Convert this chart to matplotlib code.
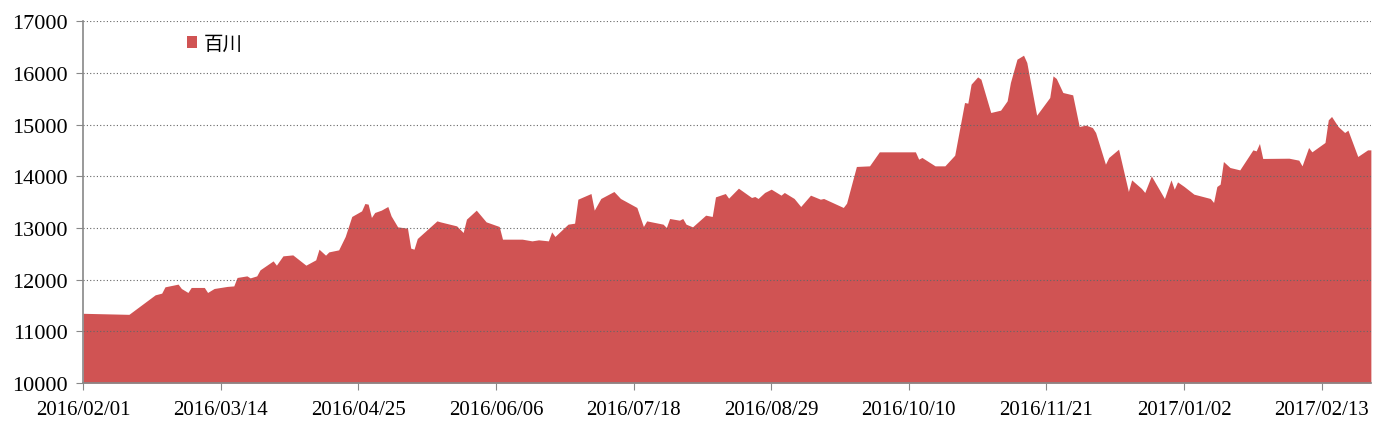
import matplotlib
matplotlib.use("Agg")
import matplotlib.pyplot as plt
import matplotlib.dates as mdates
from matplotlib.patches import Patch
import pandas as pd

# price series
dates = [
    "2016-02-01", "2016-02-15", "2016-02-23", "2016-02-25", "2016-02-26", "2016-03-01",
    "2016-03-02", "2016-03-04", "2016-03-05", "2016-03-09", "2016-03-10", "2016-03-12",
    "2016-03-16", "2016-03-18", "2016-03-19", "2016-03-22", "2016-03-23", "2016-03-25",
    "2016-03-26", "2016-03-30", "2016-03-31", "2016-04-02", "2016-04-05", "2016-04-09",
    "2016-04-12", "2016-04-13", "2016-04-15", "2016-04-16", "2016-04-19", "2016-04-21",
    "2016-04-23", "2016-04-26", "2016-04-27", "2016-04-28", "2016-04-29", "2016-04-30",
    "2016-05-02", "2016-05-04", "2016-05-05", "2016-05-07", "2016-05-10", "2016-05-11",
    "2016-05-12", "2016-05-13", "2016-05-19", "2016-05-20", "2016-05-25", "2016-05-27",
    "2016-05-28", "2016-05-31", "2016-06-03", "2016-06-07", "2016-06-08", "2016-06-14",
    "2016-06-17", "2016-06-19", "2016-06-22", "2016-06-23", "2016-06-24", "2016-06-28",
    "2016-06-30", "2016-07-01", "2016-07-05", "2016-07-06", "2016-07-08", "2016-07-12",
    "2016-07-14", "2016-07-19", "2016-07-21", "2016-07-22", "2016-07-27", "2016-07-28",
    "2016-07-29", "2016-08-01", "2016-08-02", "2016-08-03", "2016-08-05", "2016-08-09",
    "2016-08-11", "2016-08-12", "2016-08-15", "2016-08-16", "2016-08-19", "2016-08-23",
    "2016-08-24", "2016-08-25", "2016-08-27", "2016-08-29", "2016-09-01", "2016-09-02",
    "2016-09-05", "2016-09-07", "2016-09-10", "2016-09-13", "2016-09-14", "2016-09-20",
    "2016-09-21", "2016-09-24", "2016-09-28", "2016-10-01", "2016-10-12", "2016-10-13",
    "2016-10-14", "2016-10-18", "2016-10-21", "2016-10-24", "2016-10-27", "2016-10-28",
    "2016-10-29", "2016-10-31", "2016-11-01", "2016-11-04", "2016-11-07", "2016-11-09",
    "2016-11-10", "2016-11-12", "2016-11-14", "2016-11-15", "2016-11-18", "2016-11-19",
    "2016-11-22", "2016-11-23", "2016-11-24", "2016-11-26", "2016-11-29", "2016-12-01",
    "2016-12-03", "2016-12-05", "2016-12-06", "2016-12-09", "2016-12-10", "2016-12-13",
    "2016-12-16", "2016-12-17", "2016-12-20", "2016-12-21", "2016-12-23", "2016-12-27",
    "2016-12-29", "2016-12-30", "2016-12-31", "2017-01-02", "2017-01-05", "2017-01-10",
    "2017-01-11", "2017-01-12", "2017-01-13", "2017-01-14", "2017-01-16", "2017-01-19",
    "2017-01-23", "2017-01-24", "2017-01-25", "2017-01-26", "2017-02-03", "2017-02-06",
    "2017-02-07", "2017-02-09", "2017-02-10", "2017-02-14", "2017-02-15", "2017-02-16",
    "2017-02-18", "2017-02-20", "2017-02-21", "2017-02-24", "2017-02-27", "2017-02-28",
]
prices = [
    11350, 11330, 11707, 11740, 11862, 11914,
    11830, 11753, 11850, 11850, 11753, 11830,
    11870, 11880, 12043, 12074, 12035, 12074,
    12190, 12364, 12281, 12461, 12480, 12281,
    12384, 12590, 12474, 12538, 12577, 12836,
    13223, 13331, 13474, 13461, 13204, 13300,
    13345, 13416, 13235, 13022, 12997, 12610,
    12590, 12797, 13138, 13119, 13041, 12913,
    13171, 13345, 13119, 13029, 12784, 12784,
    12751, 12771, 12751, 12925, 12836, 13074,
    13093, 13557, 13667, 13345, 13571, 13706,
    13571, 13397, 13029, 13138, 13074, 13010,
    13184, 13151, 13184, 13074, 13022, 13248,
    13223, 13602, 13667, 13577, 13770, 13590,
    13609, 13571, 13687, 13751, 13635, 13687,
    13571, 13416, 13635, 13557, 13571, 13397,
    13480, 14190, 14202, 14473, 14473, 14331,
    14364, 14202, 14202, 14408, 15427, 15414,
    15782, 15923, 15878, 15234, 15279, 15459,
    15814, 16265, 16342, 16201, 15182, 15266,
    15524, 15942, 15892, 15621, 15575, 14963,
    14989, 14944, 14847, 14234, 14364, 14524,
    13706, 13931, 13764, 13687, 14008, 13571,
    13931, 13751, 13892, 13803, 13654, 13571,
    13494, 13803, 13848, 14286, 14170, 14124,
    14511, 14492, 14635, 14345, 14350, 14312,
    14202, 14557, 14473, 14654, 15092, 15157,
    14963, 14847, 14892, 14383, 14511, 14511,
]
series_name = "百川"
tick_dates = ["2016-02-01", "2016-03-14", "2016-04-25", "2016-06-06", "2016-07-18",
              "2016-08-29", "2016-10-10", "2016-11-21", "2017-01-02", "2017-02-13"]
y_ticks = [10000, 11000, 12000, 13000, 14000, 15000, 16000, 17000]

x = pd.to_datetime(dates)
color = "#D05353"

fig = plt.figure(figsize=(13.96, 4.35), dpi=100)
ax = fig.add_axes([0.0595, 0.117, 0.9225, 0.832])

ax.fill_between(x, prices, 10000, color=color, linewidth=0, zorder=2)

ax.set_ylim(10000, 17000)
ax.set_xlim(pd.Timestamp("2016-02-01"), pd.Timestamp("2017-02-28"))
ax.set_yticks(y_ticks)
ax.set_xticks(pd.to_datetime(tick_dates))
ax.xaxis.set_major_formatter(mdates.DateFormatter("%Y/%m/%d"))

ax.yaxis.grid(True, linestyle=(0, (1, 2)), color="#666666", linewidth=0.8, zorder=3)
ax.set_axisbelow(False)

for s in ["top", "right"]:
    ax.spines[s].set_visible(False)
for s in ["left", "bottom"]:
    ax.spines[s].set_color("#888888")
    ax.spines[s].set_linewidth(1.2)
    ax.spines[s].set_zorder(4)

ax.tick_params(axis="y", direction="out", length=5, color="#888888", pad=6)
ax.tick_params(axis="x", direction="out", length=5, color="#888888", pad=7)
for lab in ax.get_yticklabels():
    lab.set_fontfamily("Liberation Serif")
    lab.set_fontsize(16)
for lab in ax.get_xticklabels():
    lab.set_fontfamily("Liberation Serif")
    lab.set_fontsize(15)

handle = Patch(facecolor=color, edgecolor="none")
ax.legend([handle], [series_name], loc="center left", bbox_to_anchor=(0.081, 0.939),
          frameon=False, borderpad=0, borderaxespad=0,
          handlelength=0.52, handleheight=0.52, handletextpad=0.3,
          prop={"family": ["Noto Sans CJK SC", "DejaVu Sans"], "size": 14})

fig.savefig("out.png", dpi=100)
